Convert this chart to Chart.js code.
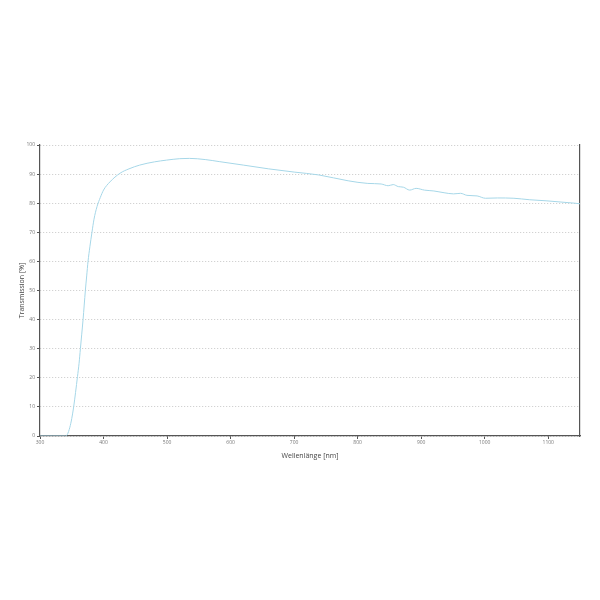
<!DOCTYPE html>
<html>
<head>
<meta charset="utf-8">
<script src="https://cdn.jsdelivr.net/npm/chart.js@4"></script>
<style>
  html, body { margin: 0; padding: 0; background: #fff; }
  #wrap { width: 600px; height: 600px; }
</style>
</head>
<body>
<div id="wrap"><canvas id="chart" width="600" height="600"></canvas></div>
<script>
// Wavelength (nm) and transmission (%)
const wavelengths = [300, 320, 340, 343, 347, 350, 353, 356, 359, 361.5, 363.6, 365.7, 367.8, 369.6,
  371.4, 373.5, 375.6, 378.5, 381.8, 385, 389.7, 395, 400, 410, 426, 440, 457, 480, 499, 520,
  535, 560, 582, 620, 660, 700, 739, 785, 816, 837, 848, 856, 864, 872, 882, 892, 905, 920,
  936, 951, 962, 972, 988, 1001, 1020, 1046, 1070, 1098, 1120, 1142, 1150];
const transmission = [0, 0, 0, 0.5, 3, 6, 10, 15, 20.4, 25, 30, 35, 40, 45,
  50, 55, 60, 65, 70, 74.5, 78.8, 82, 84.5, 87.3, 90.3, 91.8, 93.1, 94.2, 94.8, 95.3,
  95.4, 95, 94.3, 93.1, 91.8, 90.7, 89.7, 87.7, 86.8, 86.6, 86.0, 86.4, 85.7, 85.5, 84.5, 85.1, 84.5, 84.2,
  83.6, 83.2, 83.4, 82.7, 82.5, 81.7, 81.8, 81.7, 81.2, 80.8, 80.4, 80.0, 79.8];

// short dark stretch on the baseline
const baseWavelengths = [322, 342];
const baseValues = [0, 0];

const xLabel = "Wellenlänge [nm]";
const yLabel = "Transmission [%]";

const curve = wavelengths.map((w, i) => ({ x: w, y: transmission[i] }));
const base = baseWavelengths.map((w, i) => ({ x: w, y: baseValues[i] }));

const font = { family: "'Open Sans', sans-serif" };

new Chart(document.getElementById("chart"), {
  type: "line",
  data: {
    datasets: [
      {
        data: curve,
        borderColor: "#a6d7e8",
        borderWidth: 1,
        pointRadius: 0,
        cubicInterpolationMode: "monotone",
      },
      {
        data: base,
        borderColor: "#555",
        borderWidth: 1.5,
        pointRadius: 0,
      },
    ],
  },
  options: {
    responsive: false,
    animation: false,
    layout: { padding: { left: 14, top: 145, right: 20, bottom: 140 } },
    plugins: { legend: { display: false }, tooltip: { enabled: false } },
    scales: {
      x: {
        type: "linear",
        min: 300,
        max: 1150,
        afterFit: (s) => { s.height = 24; },
        ticks: {
          stepSize: 100,
          includeBounds: false,
          autoSkip: false,
          maxRotation: 0,
          padding: 1,
          color: "#777",
          font: { ...font, size: 5 },
          callback: (v) => String(v),
        },
        grid: { display: true, drawOnChartArea: false, tickLength: 3, tickColor: "#555" },
        border: { color: "#555", width: 1.2 },
        title: {
          display: true,
          text: xLabel,
          color: "#444",
          font: { ...font, size: 7 },
          padding: { top: 1, bottom: 0 },
        },
      },
      y: {
        min: 0,
        max: 100,
        afterFit: (s) => { s.width = 26; },
        ticks: {
          stepSize: 10,
          padding: 2,
          color: "#777",
          font: { ...font, size: 5 },
        },
        grid: { color: "#c8c8c8", lineWidth: 1, tickLength: 3, tickColor: "#555" },
        border: { color: "#555", width: 1.2, dash: [1, 2] },
        title: {
          display: true,
          text: yLabel,
          color: "#444",
          font: { ...font, size: 7 },
          padding: { top: 4, bottom: 4 },
        },
      },
      y2: {
        position: "right",
        min: 0,
        max: 100,
        afterFit: (s) => { s.width = 0; },
        ticks: { display: false },
        grid: { display: false },
        border: { color: "#555", width: 1.2 },
      },
    },
  },
});
</script>
</body>
</html>
